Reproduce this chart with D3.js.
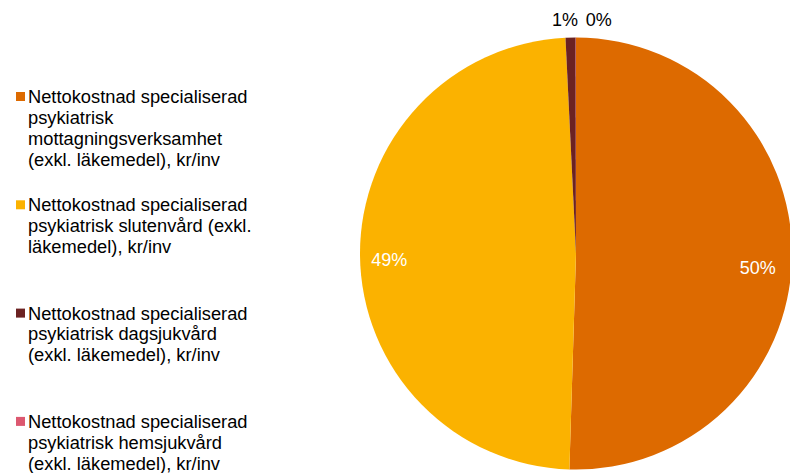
<!DOCTYPE html>
<html>
<head>
<meta charset="utf-8">
<script src="https://cdn.jsdelivr.net/npm/d3@7"></script>
<style>
  body { margin: 0; background: #fff; }
  svg { display: block; font-family: "Liberation Sans", Arial, sans-serif; }
</style>
</head>
<body>
<div id="chart"></div>
<script>
// Data (kr/inv)
var categories = [
  "Nettokostnad specialiserad psykiatrisk mottagningsverksamhet (exkl. läkemedel), kr/inv",
  "Nettokostnad specialiserad psykiatrisk slutenvård (exkl. läkemedel), kr/inv",
  "Nettokostnad specialiserad psykiatrisk dagsjukvård (exkl. läkemedel), kr/inv",
  "Nettokostnad specialiserad psykiatrisk hemsjukvård (exkl. läkemedel), kr/inv"
];
var values = [2020, 1950, 30, 1];
var legendLines = [
  ["Nettokostnad specialiserad", "psykiatrisk", "mottagningsverksamhet", "(exkl. läkemedel), kr/inv"],
  ["Nettokostnad specialiserad", "psykiatrisk slutenvård (exkl.", "läkemedel), kr/inv"],
  ["Nettokostnad specialiserad", "psykiatrisk dagsjukvård", "(exkl. läkemedel), kr/inv"],
  ["Nettokostnad specialiserad", "psykiatrisk hemsjukvård", "(exkl. läkemedel), kr/inv"]
];
var colors = ["#dd6a00", "#fbb200", "#6b2222", "#dc5870"];

function init() {
  var w = 790;
  var h = 473;
  var cx = 576;
  var cy = 253.5;
  var radius = 216;

  var svg = d3
    .select("#chart")
    .append("svg")
    .attr("width", w)
    .attr("height", h);

  var total = d3.sum(values);
  var data = values.map(function (v, i) {
    return { name: categories[i], value: v, i: i };
  });

  var pie = d3.pie().sort(null).value(function (d) { return d.value; });
  var arcs = pie(data);

  var arc = d3.arc().innerRadius(0).outerRadius(radius);
  var labelArc = d3.arc().innerRadius(radius * 0.865).outerRadius(radius * 0.865);
  var outerArc = d3.arc().innerRadius(radius + 18).outerRadius(radius + 18);

  var g = svg.append("g").attr("transform", "translate(" + cx + "," + cy + ")");

  // Slices
  g.selectAll("path")
    .data(arcs)
    .enter()
    .append("path")
    .attr("d", arc)
    .attr("fill", function (d) { return colors[d.data.i]; });

  // Percentage labels
  var fmt = function (d) { return Math.round((d.data.value / total) * 100) + "%"; };

  g.selectAll("text.lbl")
    .data(arcs)
    .enter()
    .append("text")
    .attr("class", "lbl")
    .attr("font-size", "18px")
    .attr("dy", "0.35em")
    .each(function (d) {
      var big = (d.endAngle - d.startAngle) > 0.3;
      var p, anchor;
      if (big) {
        p = labelArc.centroid(d);
        // small nudges to match the reference placement
        if (d.data.i === 0) { p[0] -= 5; p[1] += 11; }
        if (d.data.i === 1) { p[1] += 4; }
        anchor = "middle";
      } else {
        p = outerArc.centroid(d);
        if (d.data.i === 2) { p[0] = p[0] + 8; anchor = "end"; }
        else { p[0] = p[0] + 10; anchor = "start"; }
      }
      d3.select(this)
        .attr("x", p[0])
        .attr("y", p[1])
        .attr("text-anchor", anchor)
        .attr("fill", big ? "#fff" : "#000")
        .text(fmt(d));
    });

  // Legend
  var legendTop = 96.5;
  var legendStep = 108.3;
  var lineH = 21;

  var legend = svg.append("g").attr("class", "legend");

  var items = legend
    .selectAll("g")
    .data(data)
    .enter()
    .append("g")
    .attr("transform", function (d, i) { return "translate(0," + (legendTop + i * legendStep) + ")"; });

  items.append("rect")
    .attr("x", 16)
    .attr("y", -4.5)
    .attr("width", 9)
    .attr("height", 9)
    .attr("fill", function (d) { return colors[d.i]; });

  items.append("text")
    .attr("font-size", "18.3px")
    .attr("fill", "#000")
    .selectAll("tspan")
    .data(function (d) { return legendLines[d.i]; })
    .enter()
    .append("tspan")
    .attr("x", 28)
    .attr("y", function (d, j) { return j * lineH; })
    .attr("dy", "0.35em")
    .text(function (d) { return d; });
}

window.onload = init;
</script>
</body>
</html>
